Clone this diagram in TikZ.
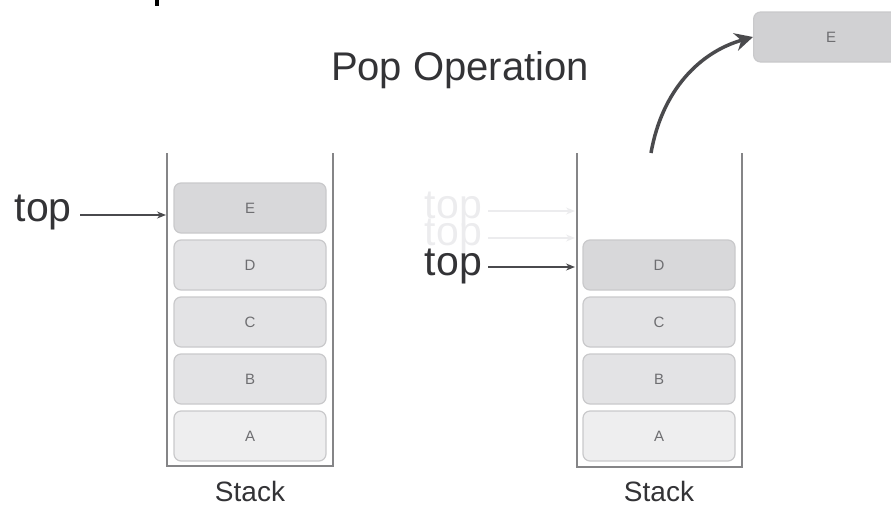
\documentclass[tikz,border=0pt]{standalone}
\usepackage{fontspec}
\setmainfont{Liberation Sans}
\usetikzlibrary{arrows.meta}
\definecolor{wallc}{HTML}{858587}
\definecolor{boxf}{HTML}{E3E3E5}
\definecolor{boxd}{HTML}{C9C9CB}
\definecolor{letc}{HTML}{6E6E71}
\definecolor{txtc}{HTML}{333336}
\definecolor{arrc}{HTML}{4A4A4D}
\definecolor{fadec}{HTML}{ECECEE}
\tikzset{
  wall/.style={draw=wallc, line width=2pt},
  cell/.style={draw=boxd, fill=boxf, line width=1.2pt, rounded corners=7pt,
    minimum width=152pt, minimum height=50pt, inner sep=0pt,
    text=letc, font=\fontsize{15}{15}\selectfont},
  toptxt/.style={text=txtc, font=\fontsize{41}{41}\selectfont, inner sep=0pt, anchor=east},
  fadetxt/.style={toptxt, text=fadec},
  ptr/.style={draw=arrc, line width=1.3pt, -{Stealth[length=9pt,width=7pt]}},
  fadeptr/.style={ptr, draw=fadec, -{Stealth[length=9pt,width=7pt,color=fadec]}},
  lbl/.style={text=txtc, font=\fontsize{28}{28}\selectfont, inner sep=0pt}
}
\begin{document}
\begin{tikzpicture}[x=1pt,y=-1pt]
\useasboundingbox (0,0) rectangle (891,504);
\fill[black] (155,0) rectangle (159,6);
% title
\node[text=txtc, font=\fontsize{40}{40}\selectfont, inner sep=0pt] (title) at (460,70) {Pop Operation};
% left stack
\draw[wall] (167,153) -- (167,466) -- (333,466) -- (333,153);
\node[cell, fill=boxf!95!black] (lE) at (250,208) {E};
\node[cell] (lD) at (250,265) {D};
\node[cell] (lC) at (250,322) {C};
\node[cell] (lB) at (250,379) {B};
\node[cell, fill=boxf!60!white] (lA) at (250,436) {A};
\node[lbl] (ls) at (250,491) {Stack};
\node[toptxt] (ltop) at (72,212) {top};
\coordinate (ls0) at (80,215);
\coordinate (lw) at (166,215);
\draw[ptr] (ls0) -- (lw);
% right stack
\draw[wall] (577,153) -- (577,467) -- (742,467) -- (742,153);
\node[cell, fill=boxf!95!black] (rD) at (659,265) {D};
\node[cell] (rC) at (659,322) {C};
\node[cell] (rB) at (659,379) {B};
\node[cell, fill=boxf!60!white] (rA) at (659,436) {A};
\node[lbl] (rs) at (659,491) {Stack};
\node[fadetxt] (f1) at (482,209) {top};
\node[fadetxt] (f2) at (482,236) {top};
\node[toptxt] (rtop) at (482,266) {top};
\coordinate (fs1) at (488,211);
\coordinate (fs2) at (488,238);
\coordinate (rs0) at (488,267);
\coordinate (fw1) at (575,211);
\coordinate (fw2) at (575,238);
\coordinate (rw) at (575,267);
\draw[fadeptr] (fs1) -- (fw1);
\draw[fadeptr] (fs2) -- (fw2);
\draw[ptr] (rs0) -- (rw);
% popped element
\node[cell, fill=boxf!92!black, anchor=west, minimum width=155pt] (pE) at (753,37) {E};
\coordinate (cs) at (651,153);
\draw[draw=arrc, line width=3.5pt, -{Stealth[length=18pt,width=18pt]}]
  (cs) .. controls (662,90) and (700,52) .. (pE.west);
\end{tikzpicture}
\end{document}
